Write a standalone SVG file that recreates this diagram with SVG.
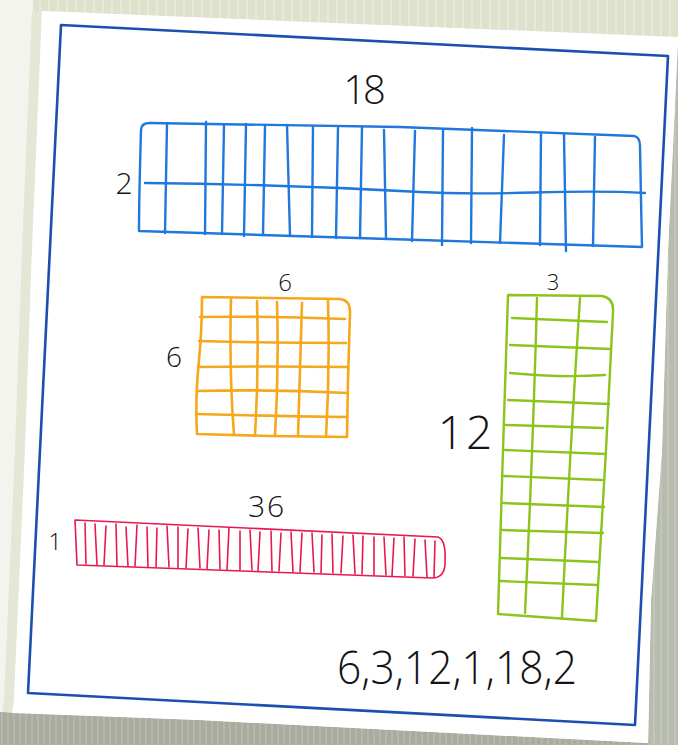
<svg xmlns="http://www.w3.org/2000/svg" width="678" height="745" viewBox="0 0 678 745">
<defs>
<pattern id="texTop" width="9" height="40" patternUnits="userSpaceOnUse">
<rect width="9" height="40" fill="#dde2cc"/>
<rect x="3" width="2" height="40" fill="#e7eadb"/>
</pattern>
<pattern id="texRight" width="7" height="30" patternUnits="userSpaceOnUse">
<rect width="7" height="30" fill="#b8bcae"/>
<rect x="2" width="2" height="30" fill="#c2c6b8"/>
</pattern>
<pattern id="texBottom" width="6" height="30" patternUnits="userSpaceOnUse">
<rect width="6" height="30" fill="#a8ac9e"/>
<rect x="1" width="2" height="30" fill="#b3b6a9"/>
</pattern>
<style>
.lbl{font-family:"Open Sans","Liberation Sans","DejaVu Sans",sans-serif;font-weight:300;fill:#141414;text-anchor:middle}
.blue{fill:none;stroke:#1f78dc;stroke-width:2.4;stroke-linecap:round;stroke-linejoin:round}
.orange{fill:none;stroke:#f5a81c;stroke-width:2.6;stroke-linecap:round;stroke-linejoin:round}
.green{fill:none;stroke:#8cc41e;stroke-width:2.4;stroke-linecap:round;stroke-linejoin:round}
.red{fill:none;stroke:#e8194e;stroke-width:1.6;stroke-linecap:round;stroke-linejoin:round}
</style>
</defs>
<!-- background scene -->
<rect width="678" height="745" fill="#f3f4ee"/>
<polygon points="33,0 678,0 678,38 42,11 33,11" fill="url(#texTop)"/>
<polygon points="678,40 668,250 662,450 651,600 648,745 678,745" fill="url(#texRight)"/>
<polygon points="0,712 200,720 648,743 648,745 0,745" fill="url(#texBottom)"/>
<polyline points="37,11 27,250 20,450 9,700 7,712" fill="none" stroke="#e3e7d6" stroke-width="10"/>
<polygon id="paper" points="42,11 678,37 678,40 668,250 662,450 651,600 648,743 200,720 12,713 14,700 25,450 32,250" fill="#ffffff"/>
<polygon id="frame" points="61,25 668,56 635,725 28,693" fill="none" stroke="#1c4fb0" stroke-width="2.6" stroke-linejoin="round"/>

<g id="rect-18x2">
<path class="blue" d="M141,130 Q141,123 150,123 L400,127 L634,136 Q640,137 640,146 L641,200 L642,247 L420,240 L139,231 Q139,200 141,130 Z"/>
<path class="blue" d="M145,183 C250,184 330,187 420,192 S560,188 645,193"/>
<path class="blue" d="M167,124 L165,233 M206,122 L205,234 M224,125 L222,234 M246,124 L244,236 M265,126 L263,235 M287,125 L290,236 M313,126 L312,237 M338,128 L336,238 M362,127 L360,238 M384,130 L386,239 M415,131 L412,241 M443,130 L442,245 M472,128 L471,243 M504,135 L500,243 M541,133 L540,245 M564,135 L566,251 M595,137 L593,246"/>
<text class="lbl" x="363" y="104" font-size="40" letter-spacing="-3">18</text>
<text class="lbl" x="124" y="194" font-size="30">2</text>
</g>

<g id="rect-6x6">
<path class="orange" d="M202,297 L340,299 Q350,300 350,312 L348,380 L347,437 L270,436 L197,434 Q195,400 199,360 Q202,330 202,297 Z"/>
<path class="orange" d="M231,299 Q229,370 234,435 M257,301 Q259,370 255,436 M277,302 Q279,370 275,436 M302,303 Q300,370 298,436 M328,301 Q330,370 326,437"/>
<path class="orange" d="M200,317 Q270,316 345,319 M199,341 Q270,343 346,343 M198,367 Q270,366 347,367 M197,391 Q270,389 347,393 M196,414 Q270,416 347,417"/>
<text class="lbl" x="285" y="291" font-size="24">6</text>
<text class="lbl" x="174" y="367" font-size="28">6</text>
</g>

<g id="rect-3x12">
<path class="green" d="M508,295 L602,296 Q614,298 613,312 L606,450 L596,621 L498,614 L503,450 Z"/>
<path class="green" d="M537,298 Q533,450 525,613 M580,298 Q570,450 562,617"/>
<path class="green" d="M512,318 L607,322 M510,345 L611,349 M510,373 Q560,378 605,375 M508,400 L609,404 M506,425 L603,428 M505,450 L606,454 M504,476 L602,480 M503,503 L604,507 M502,530 L603,533 M501,558 L599,562 M500,581 L597,585"/>
<text class="lbl" x="553" y="290" font-size="22">3</text>
<text class="lbl" x="466" y="449" font-size="46" letter-spacing="2">12</text>
</g>

<g id="rect-36x1">
<path class="red" d="M75,520 L438,537 Q446,540 445,560 Q446,578 432,578 L77,565 Z"/>
<path class="red" d="M85,523 L86,564 M95,524 L97,565 M106,526 L104,565 M116,524 L117,566 M126,527 L128,566 M137,525 L135,566 M147,527 L148,567 M157,528 L156,567 M167,526 L169,567 M178,527 L178,568 M188,529 L186,568 M198,528 L200,568 M209,530 L207,569 M219,530 L220,569 M229,528 L227,570 M240,531 L240,570 M250,530 L252,570 M260,532 L258,571 M271,531 L272,571 M281,533 L279,571 M291,532 L293,572 M302,533 L300,572 M312,533 L314,572 M322,535 L321,573 M332,534 L333,573 M343,536 L341,573 M353,535 L355,574 M363,536 L362,574 M374,537 L374,575 M384,537 L386,575 M394,538 L392,576 M404,537 L405,576 M415,539 L413,576 M425,540 L427,577 M435,541 L434,577"/>
<text class="lbl" x="267" y="517" font-size="30" letter-spacing="2">36</text>
<text class="lbl" x="55" y="550" font-size="24">1</text>
</g>

<g id="factors">
<text class="lbl" x="457" y="684" font-size="46" textLength="240" lengthAdjust="spacingAndGlyphs">6,3,12,1,18,2</text>
</g>
</svg>
